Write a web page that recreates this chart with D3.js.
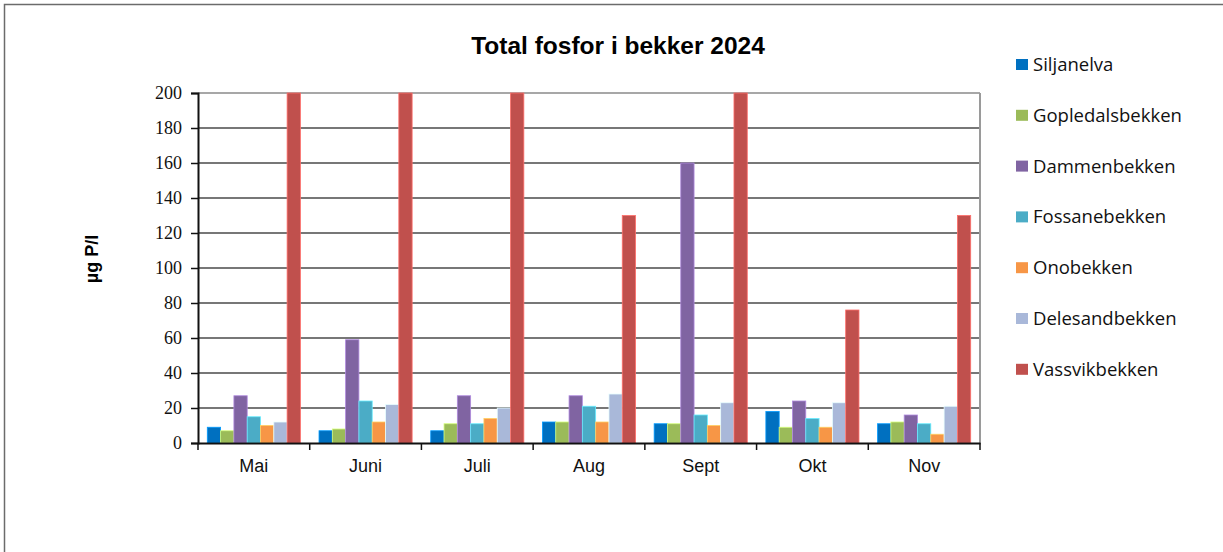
<!DOCTYPE html>
<html>
<head>
<meta charset="utf-8">
<script src="https://cdn.jsdelivr.net/npm/d3@7"></script>
<style>
  body { margin: 0; background: #fff; }
  svg { display: block; }
</style>
</head>
<body>
<svg id="chart" width="1223" height="552"></svg>
<script>
// months on the x axis
var months = ["Mai", "Juni", "Juli", "Aug", "Sept", "Okt", "Nov"];
var series = ["Siljanelva", "Gopledalsbekken", "Dammenbekken", "Fossanebekken",
              "Onobekken", "Delesandbekken", "Vassvikbekken"];
var colors = ["#0070C0", "#9BBB59", "#8064A2", "#4BACC6", "#F79646", "#A9B8D9", "#C0504D"];
var yTicks = [0, 20, 40, 60, 80, 100, 120, 140, 160, 180, 200];

// values per stream, one number per month (µg P/l)
var siljanelva      = [9, 7, 7, 12, 11, 18, 11];
var gopledalsbekken = [7, 8, 11, 12, 11, 9, 12];
var dammenbekken    = [27, 59, 27, 27, 160, 24, 16];
var fossanebekken   = [15, 24, 11, 21, 16, 14, 11];
var onobekken       = [10, 12, 14, 12, 10, 9, 5];
var delesandbekken  = [12, 22, 20, 28, 23, 23, 21];
var vassvikbekken   = [200, 200, 200, 130, 200, 76, 130];

var values = [siljanelva, gopledalsbekken, dammenbekken, fossanebekken,
              onobekken, delesandbekken, vassvikbekken];

var svg = d3.select("#chart");

// outer chart frame (runs off the right and bottom of the picture)
svg.append("rect")
  .attr("x", 4.5).attr("y", 4.5)
  .attr("width", 1240).attr("height", 560)
  .attr("fill", "none")
  .attr("stroke", "#6b6b6b")
  .attr("stroke-width", 1.5);

var plot = {left: 198, right: 980, top: 93, bottom: 443};

var x0 = d3.scaleBand()
  .domain(months)
  .range([plot.left, plot.right]);

var gap = 9.3;
var x1 = d3.scaleBand()
  .domain(series)
  .range([gap, x0.bandwidth() - gap]);

var y = d3.scaleLinear()
  .domain([0, 200])
  .range([plot.bottom, plot.top]);

// gridlines
svg.append("g")
  .selectAll("line")
  .data(yTicks.filter(function(d) { return d > 0; }))
  .enter().append("line")
    .attr("x1", plot.left).attr("x2", plot.right)
    .attr("y1", function(d) { return y(d); })
    .attr("y2", function(d) { return y(d); })
    .attr("stroke", function(d) { return d == 200 ? "#8a8a8a" : "#4a4a4a"; })
    .attr("stroke-width", 1.5);

// right border of the plot area
svg.append("line")
  .attr("x1", plot.right).attr("x2", plot.right)
  .attr("y1", plot.top).attr("y2", plot.bottom)
  .attr("stroke", "#9a9a9a")
  .attr("stroke-width", 2);

// bars
var groups = svg.append("g")
  .selectAll("g")
  .data(months)
  .enter().append("g")
    .attr("transform", function(d) { return "translate(" + x0(d) + ",0)"; });

groups.selectAll("rect")
  .data(function(m, i) {
    return series.map(function(s, j) { return {s: s, j: j, v: values[j][i]}; });
  })
  .enter().append("rect")
    .attr("x", function(d) { return x1(d.s); })
    .attr("width", x1.bandwidth())
    .attr("y", function(d) { return y(Math.min(d.v, 200)); })
    .attr("height", function(d) { return y(0) - y(Math.min(d.v, 200)); })
    .attr("fill", function(d) { return colors[d.j]; })
    .attr("stroke", function(d) { return d3.color(colors[d.j]).brighter(0.9); })
    .attr("stroke-width", 0.8);

// y axis
var yAxis = d3.axisLeft(y)
  .tickValues(yTicks)
  .tickSize(7)
  .tickPadding(9)
  .tickFormat(d3.format("d"));

var gy = svg.append("g")
  .attr("transform", "translate(" + plot.left + ",0)")
  .call(yAxis);
gy.select(".domain").attr("stroke", "#111").attr("stroke-width", 2);
gy.selectAll(".tick line").attr("stroke", "#111").attr("stroke-width", 1.5);
gy.selectAll("text")
  .attr("font-family", "'Liberation Serif', 'Times New Roman', serif")
  .attr("font-size", "18px")
  .attr("fill", "#111");

// x axis: ticks between categories
var xAxis = d3.axisBottom(x0).tickSize(0).tickPadding(16);
var gx = svg.append("g")
  .attr("transform", "translate(0," + plot.bottom + ")")
  .call(xAxis);
gx.select(".domain").attr("stroke", "#111").attr("stroke-width", 2);
gx.selectAll("text")
  .attr("font-family", "'Liberation Sans', Arial, sans-serif")
  .attr("font-size", "18px")
  .attr("fill", "#111");

var bounds = months.map(function(m) { return x0(m); }).concat([plot.right]);
svg.append("g")
  .selectAll("line")
  .data(bounds)
  .enter().append("line")
    .attr("x1", function(d) { return d; }).attr("x2", function(d) { return d; })
    .attr("y1", plot.bottom).attr("y2", plot.bottom + 7)
    .attr("stroke", "#111")
    .attr("stroke-width", 1.5);

// title
svg.append("text")
  .attr("x", 618).attr("y", 54)
  .attr("text-anchor", "middle")
  .attr("font-family", "'Liberation Sans', Arial, sans-serif")
  .attr("font-weight", "bold")
  .attr("font-size", "24.5px")
  .attr("fill", "#000")
  .text("Total fosfor i bekker 2024");

// y label
svg.append("text")
  .attr("transform", "translate(98,259) rotate(-90)")
  .attr("text-anchor", "middle")
  .attr("font-family", "'Liberation Sans', Arial, sans-serif")
  .attr("font-weight", "bold")
  .attr("font-size", "18px")
  .attr("fill", "#000")
  .text("µg P/l");

// legend
var legend = svg.append("g")
  .selectAll("g")
  .data(series)
  .enter().append("g")
    .attr("transform", function(d, i) { return "translate(1016," + (59 + i * 50.8) + ")"; });

legend.append("rect")
  .attr("width", 12).attr("height", 11)
  .attr("fill", function(d, i) { return colors[i]; });

legend.append("text")
  .attr("x", 17).attr("y", 12)
  .attr("font-family", "'Open Sans', sans-serif")
  .attr("font-size", "18.5px")
  .attr("fill", "#111")
  .text(function(d) { return d; });
</script>
</body>
</html>
